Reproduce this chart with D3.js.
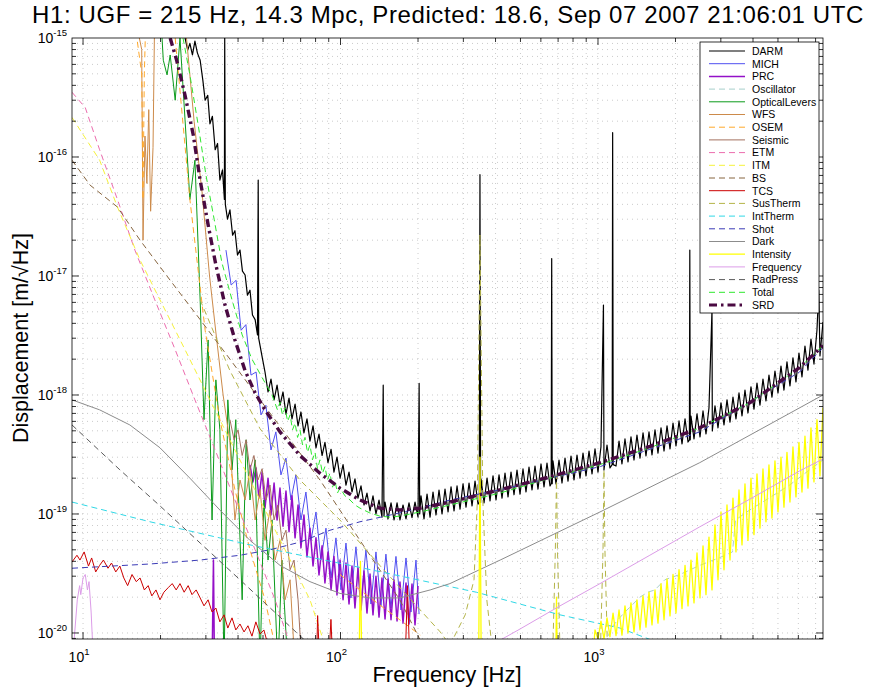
<!DOCTYPE html>
<html><head><meta charset="utf-8">
<script src="https://cdn.jsdelivr.net/npm/d3@7"></script>
<style>
body{margin:0;background:#fff;}
svg{display:block;font-family:"Liberation Sans",Arial,Helvetica,sans-serif;}
</style>
</head><body>
<svg id="chart" width="874" height="691"></svg>
<script>
// ---- labels ----
const titleText = "H1: UGF = 215 Hz, 14.3 Mpc, Predicted: 18.6, Sep 07 2007 21:06:01 UTC";
const xLabelText = "Frequency [Hz]";
const yLabelText = "Displacement [m/\u221AHz]";
const xTickExponents = [1, 2, 3];
const yTickExponents = [-20, -19, -18, -17, -16, -15];
const freqDomain = [9.06, 7480];
const dispDomain = [8.9e-21, 1e-15];
const OFF = 5e-21;   // below the displayed range
const TOP = 2e-15;   // above the displayed range

// ---- spectra: [frequency Hz, displacement m/rtHz]; null breaks a trace ----
const darm = [
 [24.9,1.0e-15],[25.5,7.9e-16],[26.0,9.0e-16],[26.6,7.2e-16],[27.2,9.4e-16],[27.8,7.5e-16],[28.5,6.5e-16],
 [29.2,4.4e-16],[29.8,3.0e-16],[30.5,3.3e-16],[31.1,1.9e-16],[31.8,2.2e-16],[32.6,1.15e-16],[33.3,1.3e-16],
 [34.0,6.4e-17],[34.8,7.8e-17],[35.4,4.4e-17],[35.5,1.05e-15],[35.7,4.0e-17],[36.4,3.0e-17],[37.2,3.6e-17],
 [38.1,2.2e-17],[38.9,2.4e-17],[39.8,1.5e-17],[40.7,1.65e-17],[41.6,1.1e-17],[42.6,1.02e-17],[43.5,6.9e-18],
 [44.5,7.6e-18],[45.5,4.7e-18],[46.6,4.3e-18],[47.6,3.2e-18],[47.9,6.4e-17],[48.1,3.0e-18],[48.7,2.6e-18],
 [49.8,2.0e-18],[50.9,1.56e-18],[52.3,1.06e-18],[53.7,1.36e-18],[55.2,9.1e-19],[56.7,1.21e-18],[58.2,8.2e-19],
 [59.8,1.06e-18],[61.4,6.9e-19],[63.1,9.4e-19],[64.8,6.3e-19],[66.6,8.4e-19],[68.4,5.5e-19],[70.2,7.2e-19],
 [72.1,4.8e-19],[74.1,6.3e-19],[76.1,4.1e-19],[78.2,5.5e-19],[80.3,3.6e-19],[82.5,4.7e-19],[84.8,3.1e-19],
 [87.0,4.0e-19],[89.4,2.7e-19],[91.9,3.5e-19],[94.3,2.25e-19],[96.9,3.0e-19],[99.6,2.0e-19],[102.3,2.6e-19],
 [105.0,1.75e-19],[107.9,2.25e-19],[110.8,1.53e-19],[113.8,1.97e-19],[116.9,1.36e-19],[120.1,1.72e-19],
 [123.4,1.19e-19],[126.7,1.5e-19],[130.2,1.06e-19],[133.7,1.42e-19],[137.3,1.0e-19],[141.1,1.31e-19],
 [144.9,9.4e-20],[146.5,1.21e-18],[147.5,9.6e-20],[148.9,1.26e-19],[152.9,9.1e-20],[157.1,1.24e-19],
 [161.4,8.9e-20],[165.8,1.24e-19],[170.2,8.9e-20],[174.9,1.19e-19],[179.6,9.1e-20],[184.5,1.24e-19],
 [189.5,9.3e-20],[194.7,1.26e-19],[200.0,9.4e-20],[202,1.25e-18],[203,1.0e-19],
 [205.4,1.42e-19],[211.0,9.1e-20],[216.8,1.47e-19],[222.7,9.4e-20],[228.7,1.53e-19],[234.9,9.8e-20],
 [241.3,1.59e-19],[247.9,1.0e-19],[254.6,1.62e-19],[261.6,1.04e-19],[268.7,1.69e-19],[276.0,1.06e-19],
 [283.5,1.72e-19],[291.2,1.1e-19],[299.1,1.79e-19],[307.2,1.14e-19],[315.6,1.82e-19],[324.2,1.17e-19],
 [333.0,1.89e-19],[342.0,1.21e-19],[346,1.25e-19],[348,7.1e-17],[350,1.25e-19],[351.3,1.97e-19],
 [360.9,1.24e-19],[370.7,2.0e-19],[380.8,1.29e-19],[391.1,2.09e-19],[401.8,1.31e-19],[412.7,2.13e-19],
 [423.9,1.36e-19],[435.4,2.21e-19],[447.3,1.39e-19],[459.4,2.25e-19],[471.9,1.45e-19],[484.7,2.34e-19],
 [497.9,1.47e-19],[511.4,2.39e-19],[525.3,1.53e-19],[539.6,2.48e-19],[554.3,1.59e-19],[569.3,2.53e-19],
 [584.8,1.62e-19],[600.7,2.63e-19],[617.1,1.69e-19],[633.8,2.68e-19],[651.1,1.72e-19],[658,1.8e-19],
 [661,1.4e-17],[664,1.8e-19],[668.8,2.79e-19],[687.0,1.79e-19],[705.6,2.84e-19],[724.8,1.82e-19],
 [744.6,2.95e-19],[764.8,1.89e-19],[785.6,3.07e-19],[807.0,1.93e-19],[828.9,3.13e-19],[851.5,2.0e-19],
 [874.6,3.25e-19],[898.4,2.09e-19],[922.9,3.38e-19],[948.0,2.17e-19],[973.5,3.52e-19],[1000,2.25e-19],
 [1027,3.66e-19],[1050,5.7e-18],[1055,2.34e-19],[1084,3.8e-19],[1113,2.44e-19],[1135,2.6e-19],
 [1140,1.6e-16],[1146,2.6e-19],[1175,2.53e-19],[1207,4.1e-19],[1239,2.63e-19],[1273,4.27e-19],[1308,2.74e-19],
 [1343,4.44e-19],[1380,2.84e-19],[1417,4.6e-19],[1456,2.95e-19],[1496,4.8e-19],[1536,3.07e-19],[1578,4.89e-19],
 [1621,3.13e-19],[1665,5.1e-19],[1710,3.25e-19],[1757,5.3e-19],[1805,3.38e-19],[1854,5.5e-19],[1904,3.52e-19],
 [1956,5.8e-19],[2009,3.73e-19],[2064,6.05e-19],[2120,3.88e-19],[2178,6.3e-19],[2237,4.03e-19],[2265,4.2e-19],
 [2273,1.65e-17],[2282,4.2e-19],[2297,6.66e-19],[2360,4.27e-19],[2424,6.93e-19],[2490,4.44e-19],
 [2558,7.34e-19],[2627,4.7e-19],[2698,7.78e-19],[2772,5.2e-18],[2780,4.98e-19],[2847,8.1e-19],[2925,5.3e-19],
 [3004,8.6e-19],[3086,5.6e-19],[3170,9.1e-19],[3256,5.9e-19],[3344,9.6e-19],[3435,6.3e-19],[3529,1.04e-18],
 [3625,6.66e-19],[3723,1.1e-18],[3824,7.06e-19],[3928,1.17e-18],[4035,7.6e-19],[4145,1.26e-18],[4257,8.2e-19],
 [4373,1.36e-18],[4492,8.9e-19],[4614,1.47e-18],[4739,9.6e-19],[4868,1.59e-18],[5001,1.04e-18],[5137,1.75e-18],
 [5276,1.1e-18],[5420,1.9e-18],[5567,1.19e-18],[5718,2.05e-18],[5874,1.29e-18],[6034,2.25e-18],[6198,1.42e-18],
 [6366,2.58e-18],[6539,1.62e-18],[6717,2.95e-18],[6900,1.82e-18],[7088,3.52e-18],[7200,7.6e-18],
 [7280,2.13e-18],[7478,4.1e-18]
];
const mich = [
 [35.9,1.65e-17],[37.6,8.4e-18],[39.3,9.2e-18],[41.1,3.5e-18],[42.9,3.9e-18],[44.9,1.47e-18],[47.0,1.56e-18],
 [49.1,6.8e-19],[51.3,8.2e-19],[53.7,3.45e-19],[56.1,4.9e-19],[58.7,2.13e-19],[61.4,2.95e-19],[64.2,1.31e-19],
 [67.1,2.13e-19],[70.2,8.9e-20],[73.4,1.53e-19],[76.8,6.0e-20],[80.3,1.04e-19],[83.9,4.1e-20],[87.8,7.6e-20],
 [91.9,2.9e-20],[96.0,6.3e-20],[100.4,2.3e-20],[105.0,5.7e-20],[109.8,1.97e-20],[114.8,5.3e-20],
 [120.1,1.82e-20],[125.5,5.0e-20],[131.3,1.75e-20],[137.3,4.8e-20],[143.6,1.69e-20],[150.1,4.6e-20],
 [157.0,1.62e-20],[164.2,4.4e-20],[171.7,1.56e-20],[179.6,4.27e-20],[187.8,1.5e-20],[196.4,4.1e-20],
 [201.9,1.44e-20]
];
const prc = [
 [31.7,OFF],[32.1,4.1e-20],[32.4,OFF],[null,null],
 [44.5,2.58e-19],[45.7,1.86e-19],[47.0,2.44e-19],[48.2,1.36e-19],[49.6,2.25e-19],[50.9,1.12e-19],[52.3,2.0e-19],
 [53.7,9.8e-20],[55.2,1.82e-19],[56.7,8.9e-20],[58.2,1.65e-19],[59.8,7.9e-20],[61.4,1.56e-19],[63.1,7.1e-20],
 [64.8,1.42e-19],[66.6,6.3e-20],[68.4,1.19e-19],[70.2,5.2e-20],[72.1,9.8e-20],[74.1,4.35e-20],[76.1,7.6e-20],
 [78.2,3.66e-20],[80.3,6.3e-20],[82.5,3.07e-20],[84.8,5.4e-20],[87.0,2.63e-20],[89.4,4.8e-20],[91.9,2.3e-20],
 [94.3,4.4e-20],[96.9,2.09e-20],[99.6,4.1e-20],[102.3,1.9e-20],[105.0,3.87e-20],[107.9,1.75e-20],
 [110.8,3.66e-20],[113.8,1.62e-20],[116.9,3.52e-20],[120.1,1.56e-20],[123.4,3.32e-20],[126.7,1.47e-20],
 [130.2,3.13e-20],[133.7,1.42e-20],[137.3,3.0e-20],[141.1,1.36e-20],[144.9,2.9e-20],[148.9,1.31e-20],
 [152.9,2.84e-20],[157.1,1.29e-20],[161.4,2.79e-20],[165.8,1.26e-20],[170.2,2.68e-20],[174.9,1.21e-20],
 [179.6,2.63e-20],[184.5,1.19e-20],[189.5,2.58e-20],[194.7,1.17e-20],[200.0,2.48e-20]
];
const oscillator = [
 [1064,7.9e-21],[1125,1.1e-20],[1195,1.29e-20],[1272,1.5e-20],[1358,1.72e-20],[1455,2.0e-20],[1560,2.2e-20],
 [1663,2.3e-20],[1818,2.8e-20],[2079,3.1e-20],[2485,3.7e-20],[2971,4.3e-20],[3330,4.8e-20],[3420,8.9e-20],
 [3883,1.08e-19],[4641,1.37e-19],[5549,1.75e-19],[6633,2.35e-19],[7480,2.85e-19]
];
const opticalLevers = [
 [19.9,TOP],[20.5,6.5e-16],[21.2,4.9e-16],[21.8,7.2e-16],[22.8,3.0e-16],[23.8,1.0e-15],[24.9,2.05e-16],
 [26.0,4.4e-17],[27.2,9.4e-17],[28.5,6.3e-18],[29.5,6.2e-19],[30.6,2.9e-18],[31.7,8.9e-20],[32.8,1.34e-18],
 [34.0,5.1e-19],[35.3,OFF],[36.5,9.1e-19],[37.9,2.35e-19],[39.2,6.2e-19],[41.5,1.9e-20],[43.0,4.2e-19],
 [44.5,1.31e-19],[46.6,2.85e-19],[48.7,OFF],[50.4,1.31e-19],[52.3,4.1e-20],[54.2,8.9e-20],[57.1,OFF],
 [59.2,4.1e-20],[62.5,OFF]
];
const wfs = [
 [15.5,TOP],[16.9,8.0e-16],[17.1,2.0e-17],[17.4,1.5e-16],[17.7,6.0e-17],[18.0,2.5e-16],[18.3,3.5e-17],
 [18.7,1.2e-16],[19.0,TOP],[null,null],
 [24.5,TOP],[27.0,2.0e-16],[29.0,5.0e-17],[31.0,1.0e-17],[33.0,3.0e-18],[35.0,1.0e-18],[37.2,4.0e-19],
 [38.9,8.9e-20],[40.7,1.93e-19],[42.6,1.31e-19],[44.5,2.35e-19],[46.6,8.9e-20],[48.7,1.6e-19],
 [50.9,6.0e-20],[53.2,1.08e-19],[55.7,4.1e-20],[58.2,6.0e-20],[60.9,1.9e-20],[63.7,2.8e-20],[66.6,OFF]
];
const osem = [
 [15.5,TOP],[16.9,5.0e-16],[17.1,4.4e-17],[17.3,5.0e-16],[17.6,TOP],[null,null],
 [22.8,1.0e-15],[26.0,4.4e-17],[29.8,3.5e-18],[34.0,6.2e-19],[38.9,1.6e-19],[44.5,5.0e-20],[50.9,1.9e-20],
 [58.2,OFF],[null,null],
 [99.5,3.1e-20],[119,2.3e-20],[142,1.72e-20],[170,1.29e-20],[204,9.6e-21]
];
const seismic = [
 [37.2,6.2e-19],[38.6,4.2e-19],[40.0,5.1e-19],[41.5,3.1e-19],[43.0,4.2e-19],[44.5,2.35e-19],[46.1,3.1e-19],
 [47.8,1.93e-19],[49.6,2.4e-19],[51.4,1.31e-19],[53.2,1.75e-19],[55.2,8.9e-20],[57.1,1.19e-19],[59.2,6.0e-20],
 [61.4,7.3e-20],[63.7,3.4e-20],[66.0,4.1e-20],[68.4,1.9e-20],[70.9,OFF]
];
const etm = [
 [9.06,3.5e-16],[10.2,2.6e-16],[11.6,1.15e-16],[13.6,4.4e-17],[15.9,1.65e-17],[19.0,6.3e-18],[22.8,2.4e-18],
 [27.2,9.1e-19],[32.6,3.45e-19],[38.9,1.31e-19],[46.6,5.0e-20],[55.7,1.9e-20],[63.7,7.9e-21]
];
const itm = [
 [9.06,2.15e-16],[11.6,9.4e-17],[13.6,3.8e-17],[16.65,1.36e-17],[19.9,6.3e-18],[24.9,2.4e-18],[31.1,9.1e-19],
 [38.9,3.45e-19],[48.7,1.31e-19],[60.9,5.0e-20],[76.1,1.9e-20],[87,7.9e-21]
];
const bs = [
 [9.06,9.4e-17],[10.65,5.8e-17],[13.6,3.8e-17],[16.65,2.0e-17],[21.8,9.2e-18],[28.5,4.3e-18],[37.2,2.0e-18],
 [48.7,9.1e-19],[63.7,4.2e-19],[83.2,1.93e-19],[119,6.0e-20],[170,1.9e-20],[204,8.7e-21]
];
const tcs = [
 [9.06,3.95e-20],[9.47,4.5e-20],[9.73,4.1e-20],[10.1,4.8e-20],[10.5,3.65e-20],[10.8,4.27e-20],[11.2,3.26e-20],
 [11.6,3.7e-20],[12.0,4.1e-20],[12.5,3.5e-20],[12.9,3.87e-20],[13.4,3.26e-20],[13.9,3.65e-20],[14.4,2.9e-20],
 [14.9,2.5e-20],[15.5,3.1e-20],[16.1,2.7e-20],[16.65,2.9e-20],[17.3,2.3e-20],[17.9,2.5e-20],[18.5,2.05e-20],
 [19.2,2.3e-20],[19.9,1.9e-20],[20.6,2.2e-20],[21.4,2.4e-20],[22.2,2.6e-20],[23.0,2.3e-20],[23.8,2.6e-20],
 [24.7,2.2e-20],[25.6,2.5e-20],[26.5,2.1e-20],[27.5,2.3e-20],[28.5,1.97e-20],[29.5,1.69e-20],[30.6,1.9e-20],
 [31.7,1.5e-20],[32.8,1.62e-20],[34.0,1.24e-20],[35.3,1.42e-20],[36.5,1.1e-20],[37.9,1.34e-20],[39.2,1.06e-20],
 [40.7,1.19e-20],[42.2,1.02e-20],[43.7,1.15e-20],[45.3,9.4e-21],[46.9,1.24e-20],[48.7,9.8e-21],[50.4,1.06e-20],
 [52.3,7.9e-21],[80.6,OFF],[81.5,1.4e-20],[83.2,OFF],[89.8,OFF],[91.8,1.3e-20],[93.5,OFF],[178,OFF],
 [182,2.5e-20],[186,OFF]
];
const susTherm = [
 [28.5,6.3e-18],[37.2,1.6e-18],[48.7,5.2e-19],[69.6,1.93e-19],[99.5,8.9e-20],[142,3.7e-20],[204,1.56e-20],
 [244,1.02e-20],[266,7.9e-21],[305,1.42e-20],[330,2.8e-20],[340,1.31e-19],[348,2.2e-17],[357,1.31e-19],
 [370,1.9e-20],[387,7.9e-21],[null,null],
 [665,OFF],[683,5.0e-20],[690,2.1e-19],[696,5.0e-20],[715,OFF],[null,null],
 [1018,OFF],[1046,5.0e-20],[1055,2.35e-19],[1064,5.0e-20],[1093,OFF]
];
const intTherm = [
 [9.06,1.26e-19],[18.2,8.6e-20],[44.5,5.5e-20],[109,3.7e-20],[337,2.2e-20],[712,1.42e-20],[1217,1.1e-20],
 [1820,7.9e-21]
];
const shot = [
 [9.06,3.5e-20],[18.2,3.8e-20],[28.5,4.1e-20],[40.7,4.5e-20],[53.2,5.0e-20],[69.6,5.8e-20],[91,7.3e-20],
 [119,8.6e-20],[156,9.8e-20],[204,1.12e-19],[266,1.31e-19],[417,1.6e-19],[1018,2.5e-19],[2485,4.9e-19],
 [6066,1.56e-18],[7480,2.5e-18]
];
const dark = [
 [9.06,9.1e-19],[11.6,7.5e-19],[15.2,5.6e-19],[19.9,3.6e-19],[26,2.0e-19],[34,1.08e-19],[44.5,6.0e-20],
 [58.2,3.7e-20],[76.1,2.7e-20],[99.5,2.15e-20],[130,1.97e-20],[170,1.97e-20],[223,2.3e-20],[266,2.6e-20],
 [417,4.1e-20],[1018,1.04e-19],[2485,2.7e-19],[7480,1.0e-18]
];
const intensity = [
 [118,OFF],[119.5,4.0e-20],[121,OFF],[null,null],
 [344,OFF],[348,3.0e-19],[352,OFF],[null,null],
 [685,OFF],[690,2.0e-20],[695,OFF],[null,null],
 [948,OFF],[973.5,1.06e-20],[1000,8.9e-21],[1027,1.26e-20],[1055,8.9e-21],[1084,1.34e-20],[1113,9.3e-21],
 [1144,1.47e-20],[1175,9.5e-21],[1207,1.56e-20],[1239,9.6e-21],[1273,1.69e-20],[1308,1.0e-20],[1343,1.79e-20],
 [1380,1.02e-20],[1417,1.9e-20],[1456,1.06e-20],[1496,2.05e-20],[1536,1.12e-20],[1578,2.2e-20],[1621,1.17e-20],
 [1665,2.3e-20],[1710,1.21e-20],[1757,2.6e-20],[1805,1.29e-20],[1854,2.85e-20],[1904,1.39e-20],[1956,3.1e-20],
 [2009,1.47e-20],[2064,3.4e-20],[2120,1.6e-20],[2178,3.7e-20],[2237,1.69e-20],[2297,4.1e-20],[2360,1.79e-20],
 [2424,4.7e-20],[2490,1.97e-20],[2558,5.4e-20],[2627,2.1e-20],[2698,6.4e-20],[2772,2.3e-20],[2847,8.1e-20],
 [2925,2.8e-20],[3004,1.04e-19],[3086,3.4e-20],[3170,1.19e-19],[3256,4.1e-20],[3344,1.36e-19],[3435,4.8e-20],
 [3529,1.59e-19],[3625,5.5e-20],[3723,1.79e-19],[3824,6.0e-20],[3928,2.0e-19],[4035,6.7e-20],[4145,2.17e-19],
 [4257,7.6e-20],[4373,2.39e-19],[4492,8.6e-20],[4614,2.58e-19],[4739,9.25e-20],[4868,2.79e-19],[5001,1.04e-19],
 [5137,3.0e-19],[5276,1.14e-19],[5420,3.3e-19],[5567,1.26e-19],[5718,3.66e-19],[5874,1.39e-19],[6034,4.0e-19],
 [6198,1.53e-19],[6366,4.5e-19],[6539,1.65e-19],[6717,5.3e-19],[6900,1.86e-19],[7088,6.2e-19],[7280,2.09e-19],
 [7478,7.8e-19]
];
const frequencyNoise = [
 [9.2,7.9e-21],[9.5,1.9e-20],[9.7,2.5e-20],[9.8,2.1e-20],[10.0,2.9e-20],[10.2,3.1e-20],[10.4,2.3e-20],
 [10.55,2.7e-20],[10.75,1.5e-20],[10.9,7.9e-21],[null,null],
 [385,7.9e-21],[498,1.08e-20],[712,1.69e-20],[1018,2.6e-20],[1590,4.5e-20],[2485,7.8e-20],[3883,1.33e-19],
 [6066,2.3e-19],[7480,2.9e-19]
];
const radPress = [
 [9.06,5.6e-19],[13.9,2.35e-19],[19.9,1.17e-19],[28.5,5.7e-20],[40.7,2.8e-20],[58.2,1.36e-20],[76.1,7.9e-21]
];
const total = [
 [24.45,1.0e-15],[26.0,4.9e-16],[28.0,1.86e-16],[30.0,7.1e-17],[32.3,3.0e-17],[34.6,1.3e-17],[37.9,6.3e-18],
 [41.5,3.2e-18],[45.3,2.0e-18],[49.6,1.4e-18],[54.2,1.0e-18],[56.9,7.5e-19],[58.2,8.7e-19],[59.5,6.8e-19],
 [60.9,7.8e-19],[62.3,6.0e-19],[63.7,6.8e-19],[65.1,5.1e-19],[66.6,5.8e-19],[68.1,4.4e-19],[69.6,5.1e-19],
 [71.2,3.8e-19],[72.8,4.4e-19],[74.4,3.3e-19],[76.1,3.8e-19],[77.8,2.85e-19],[79.6,3.3e-19],[81.4,2.4e-19],
 [83.2,2.85e-19],[85.1,2.2e-19],[87.0,2.5e-19],[89.0,1.93e-19],[91.0,2.2e-19],[93.1,1.68e-19],[95.2,1.9e-19],
 [97.3,1.5e-19],[99.5,1.65e-19],[104.1,1.42e-19],[108.9,1.31e-19],[113.8,1.19e-19],[119,1.12e-19],
 [130,1.02e-19],[142,9.6e-20],[156,9.4e-20],[170,9.6e-20],[204,1.04e-19],[266,1.19e-19],[417,1.5e-19],
 [651,2.0e-19],[1018,2.6e-19],[1590,3.6e-19],[2485,5.3e-19],[3883,8.6e-19],[6066,1.7e-18],[7480,2.6e-18]
];
const srd = [
 [21.8,1.0e-15],[23.1,6.5e-16],[24.9,3.3e-16],[26.8,1.53e-16],[28.5,6.4e-17],[30.6,2.7e-17],[32.8,1.24e-17],
 [35.6,5.7e-18],[38.9,2.9e-18],[42.6,1.6e-18],[46.6,1.04e-18],[50.9,7.5e-19],[58.2,4.9e-19],[69.6,3.1e-19],
 [83.2,2.2e-19],[99.5,1.65e-19],[119,1.31e-19],[142,1.12e-19],[170,1.08e-19],[204,1.12e-19],[266,1.26e-19],
 [417,1.6e-19],[651,2.05e-19],[1018,2.7e-19],[1590,3.7e-19],[2485,5.3e-19],[3883,8.6e-19],[6066,1.7e-18],
 [7480,2.6e-18]
];

const seriesNames = ["DARM","MICH","PRC","Oscillator","OpticalLevers","WFS","OSEM","Seismic","ETM","ITM","BS",
 "TCS","SusTherm","IntTherm","Shot","Dark","Intensity","Frequency","RadPress","Total","SRD"];
const seriesData = [darm, mich, prc, oscillator, opticalLevers, wfs, osem, seismic, etm, itm, bs,
 tcs, susTherm, intTherm, shot, dark, intensity, frequencyNoise, radPress, total, srd];

// line styles, one per trace
const styles = [
 {c:"#000000", w:1.2, d:null},
 {c:"#4f4ff0", w:1.0, d:null},
 {c:"#9410c8", w:1.5, d:null},
 {c:"#a6cfcc", w:1.0, d:"6,4"},
 {c:"#0a9a1a", w:1.0, d:null},
 {c:"#cc8a4a", w:1.0, d:null},
 {c:"#ffa82a", w:1.0, d:"6,4"},
 {c:"#a4705e", w:1.0, d:null},
 {c:"#ec6cae", w:1.0, d:"6,4"},
 {c:"#f6f23a", w:1.0, d:"6,4"},
 {c:"#86643e", w:1.0, d:"6,4"},
 {c:"#cc0000", w:1.0, d:null},
 {c:"#b4b448", w:1.0, d:"6,4"},
 {c:"#2fd8e6", w:1.0, d:"6,4"},
 {c:"#3a3ab6", w:1.0, d:"6,4"},
 {c:"#8c8c8c", w:1.0, d:null},
 {c:"#ffff00", w:1.3, d:null},
 {c:"#dc9ce8", w:1.0, d:null},
 {c:"#5a5a5a", w:1.0, d:"6,4"},
 {c:"#2ee82e", w:1.0, d:"6,4"},
 {c:"#4a0a42", w:3.4, d:"8,4,2.5,4"}
];

const W = 874, H = 691;
const M = {left:72, right:823, top:38, bottom:639};
const svg = d3.select("#chart");
svg.append("rect").attr("width", W).attr("height", H).attr("fill", "#fff");

const x = d3.scaleLog().domain(freqDomain).range([M.left, M.right]);
const y = d3.scaleLog().domain(dispDomain).range([M.bottom, M.top]);

// minor / major positions for grid and ticks
const xMinor = [], yMinor = [];
for (let e = 0; e <= 3; e++) for (let m = 1; m <= 9; m++) {
  const v = m * Math.pow(10, e);
  if (v >= freqDomain[0] && v <= freqDomain[1]) xMinor.push(v);
}
for (let e = -21; e <= -16; e++) for (let m = 1; m <= 9; m++) {
  const v = m * Math.pow(10, e);
  if (v >= dispDomain[0] && v <= dispDomain[1] * 1.0001) yMinor.push(v);
}

// dotted grid
const grid = svg.append("g").attr("stroke", "#b4b4b4").attr("stroke-width", 0.7)
  .attr("stroke-dasharray", "1,4");
grid.selectAll("line.gx").data(xMinor).join("line")
  .attr("x1", d => x(d)).attr("x2", d => x(d)).attr("y1", M.top).attr("y2", M.bottom);
grid.selectAll("line.gy").data(yMinor).join("line")
  .attr("y1", d => y(d)).attr("y2", d => y(d)).attr("x1", M.left).attr("x2", M.right);

// traces
svg.append("clipPath").attr("id", "plotclip").append("rect")
  .attr("x", M.left).attr("y", M.top).attr("width", M.right - M.left).attr("height", M.bottom - M.top);
const line = d3.line().defined(d => d[0] !== null && d[1] !== null)
  .x(d => x(d[0])).y(d => y(d[1]));
const traces = svg.append("g").attr("clip-path", "url(#plotclip)");
seriesData.forEach((data, i) => {
  const s = styles[i];
  traces.append("path").datum(data).attr("d", line)
    .attr("fill", "none").attr("stroke", s.c).attr("stroke-width", s.w)
    .attr("stroke-dasharray", s.d).attr("stroke-linejoin", "round");
});

// box and inward ticks on all four sides
const tickLen = v => (Math.abs(Math.log10(v) - Math.round(Math.log10(v))) < 1e-9 ? 7 : 4);
const axisG = svg.append("g").attr("stroke", "#000").attr("stroke-width", 0.8);
axisG.append("rect").attr("x", M.left).attr("y", M.top).attr("width", M.right - M.left)
  .attr("height", M.bottom - M.top).attr("fill", "none");
xMinor.forEach(v => {
  const L = tickLen(v), px = x(v);
  axisG.append("line").attr("x1", px).attr("x2", px).attr("y1", M.bottom).attr("y2", M.bottom - L);
  axisG.append("line").attr("x1", px).attr("x2", px).attr("y1", M.top).attr("y2", M.top + L);
});
yMinor.forEach(v => {
  const L = tickLen(v), py = y(v);
  axisG.append("line").attr("y1", py).attr("y2", py).attr("x1", M.left).attr("x2", M.left + L);
  axisG.append("line").attr("y1", py).attr("y2", py).attr("x1", M.right).attr("x2", M.right - L);
});

// tick labels as powers of ten
xTickExponents.forEach(e => {
  const t = svg.append("text").attr("x", x(Math.pow(10, e)) - 4).attr("y", 662)
    .attr("text-anchor", "middle").attr("font-size", 14).attr("fill", "#000");
  t.append("tspan").text("10");
  t.append("tspan").attr("dy", -7).attr("font-size", 9.5).text(e);
});
yTickExponents.forEach(e => {
  const t = svg.append("text").attr("x", 67).attr("y", y(Math.pow(10, e)) + 5)
    .attr("text-anchor", "end").attr("font-size", 14).attr("fill", "#000");
  t.append("tspan").text("10");
  t.append("tspan").attr("dy", -7).attr("font-size", 9.5).text(e);
});

// title and axis labels
svg.append("text").attr("x", 448).attr("y", 23).attr("text-anchor", "middle")
  .attr("font-size", 24).attr("letter-spacing", 0.6).attr("fill", "#000").text(titleText);
svg.append("text").attr("x", 447).attr("y", 682).attr("text-anchor", "middle")
  .attr("font-size", 22).attr("fill", "#000").text(xLabelText);
svg.append("text").attr("transform", "translate(28,338) rotate(-90)").attr("text-anchor", "middle")
  .attr("font-size", 21.5).attr("fill", "#000").text(yLabelText);

// legend
const leg = svg.append("g");
leg.append("rect").attr("x", 700).attr("y", 42).attr("width", 119).attr("height", 271)
  .attr("fill", "#fff").attr("stroke", "#000").attr("stroke-width", 0.8);
seriesNames.forEach((name, i) => {
  const s = styles[i], ly = 51 + i * 12.7;
  leg.append("line").attr("x1", 709).attr("x2", 745).attr("y1", ly).attr("y2", ly)
    .attr("stroke", s.c).attr("stroke-width", Math.min(s.w, 3)).attr("stroke-dasharray", s.d);
  leg.append("text").attr("x", 752).attr("y", ly + 3.8).attr("font-size", 10.5)
    .attr("fill", "#000").text(name);
});
</script>
</body></html>
